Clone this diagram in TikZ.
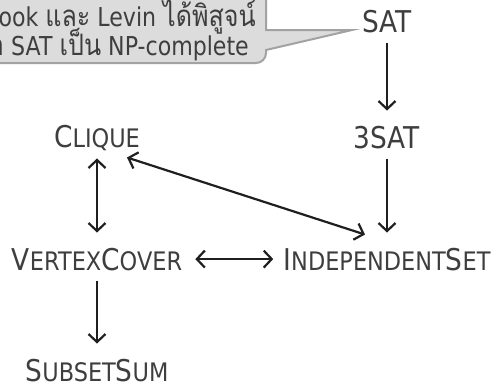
\documentclass[tikz,border=0pt]{standalone}
\usepackage{fontspec}
\setmainfont[FakeStretch=0.88]{DejaVu Sans}
\newfontfamily\thaifont[Script=Thai,FakeStretch=0.85]{Loma}
\newfontfamily\notefont[FakeStretch=0.85]{DejaVu Sans}
\usetikzlibrary{arrows.meta,positioning}

\definecolor{labelgray}{HTML}{3E3E3E}
\definecolor{notefill}{HTML}{DCDCDC}
\definecolor{notedraw}{HTML}{A2A2A2}
\newcommand{\smc}[1]{{\fontsize{25.5}{26}\selectfont #1}}
\newcommand{\thai}[1]{{\thaifont\fontsize{29.5}{30}\selectfont #1}}

\begin{document}
\begin{tikzpicture}[x=1pt,y=-1pt,
    prob/.style={text=labelgray,font=\fontsize{30}{30}\selectfont,inner sep=0pt,anchor=base},
    note/.style={text=labelgray,font=\notefont\fontsize{26}{28}\selectfont,inner sep=0pt,anchor=base east},
    tip/.tip={Straight Barb[length=8pt,width=17pt]},
    link/.style={-tip,line width=2.2pt,draw=black!88,shorten <=10pt,shorten >=15pt},
    both/.style={link,tip-tip}]
    \useasboundingbox (0,0) rectangle (499,384);
    \clip (0,0) rectangle (499,384);

    % Callout
    \draw[fill=notefill,draw=notedraw,line width=2pt]
      (266,-20) -- (266,30) -- (352,30) -- (266,50) [rounded corners=10pt] -- (266,63)
      -- (-30,63) [sharp corners] -- (-30,-20) -- cycle;
    \node[note] (line1) at (256,26) {Cook \thai{และ} Levin \thai{ได้พิสูจน์}};
    \node[note] (line2) at (249,55) {\thai{ว่าปัญหา} SAT \thai{เป็น} NP-complete};

    % Problems
    \node[prob] (sat) at (387,32) {SAT};
    \node[prob] (3sat) at (387,148) {3SAT};
    \node[prob] (clique) at (97,147) {C\smc{LIQUE}};
    \node[prob] (vc) at (97,270) {V\smc{ERTEX}C\smc{OVER}};
    \node[prob] (indset) at (387,270) {I\smc{NDEPENDENT}S\smc{ET}};
    \node[prob] (subset) at (97,381) {S\smc{UBSET}S\smc{UM}};

    % Reductions
    \draw[link] (sat) -- (3sat);
    \draw[link] (3sat) -- (indset);
    \draw[link] (vc) -- (subset);
    \draw[both,shorten <=8pt] (clique) -- (vc);
    \draw[both,shorten <=13pt,shorten >=10pt] (vc) -- (indset);
    \draw[both,shorten <=0pt,shorten >=0pt]
      ([xshift=30pt,yshift=-7pt]clique.south) -- ([xshift=-22pt,yshift=13pt]indset.north);
\end{tikzpicture}
\end{document}
